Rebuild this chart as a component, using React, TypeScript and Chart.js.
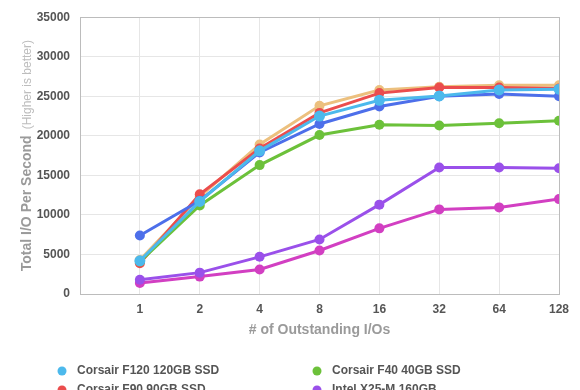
import React, { useEffect, useRef } from 'react';
import { Chart, registerables } from 'chart.js';

Chart.register(...registerables);

const FONT = "'Liberation Sans', Arial, Helvetica, sans-serif";

const categories = ['1', '2', '4', '8', '16', '32', '64', '128'];
const yTicks = [0, 5000, 10000, 15000, 20000, 25000, 30000, 35000];

const corsairF120 = [4200, 11700, 18100, 22500, 24500, 25050, 25800, 25900];
const corsairF40 = [4100, 11200, 16300, 20100, 21400, 21300, 21600, 21900];
const corsairF90 = [3900, 12600, 18400, 22900, 25400, 26100, 26100, 26000];
const intelX25M = [1800, 2700, 4700, 6900, 11300, 16000, 16000, 15900];
const ocz120 = [4300, 12300, 18900, 23800, 25800, 26200, 26400, 26400];
const ocz100 = [7400, 11800, 17900, 21500, 23700, 25000, 25300, 25000];
const intelX25V = [1400, 2200, 3100, 5500, 8300, 10700, 10950, 12000];

const seriesNames = [
  'Corsair F120 120GB SSD',
  'Corsair F40 40GB SSD',
  'Corsair F90 90GB SSD',
  'Intel X25-M 160GB',
  'OCZ Vertex 2 120GB',
  'OCZ Vertex LE 100GB',
  'Intel X25-V 40GB',
];
const seriesColors = ['#4cb9ec', '#6cc13a', '#eb4d4d', '#9a50ea', '#ecc07e', '#4d6fea', '#d23fc2'];
const seriesData = [corsairF120, corsairF40, corsairF90, intelX25M, ocz120, ocz100, intelX25V];
// drawing priority (first drawn on top)
const drawOrder = [0, 3, 6, 1, 5, 2, 4];

const xTitle = '# of Outstanding I/Os';
const yTitleMain = 'Total I/O Per Second';
const yTitleSub = '(Higher is better)';

const decor = {
  id: 'decor',
  beforeDatasetsDraw(chart: any) {
    const { ctx, chartArea: a } = chart;
    ctx.save();
    ctx.strokeStyle = '#bcbcbc';
    ctx.lineWidth = 1;
    ctx.strokeRect(Math.round(a.left) + 0.5, Math.round(a.top) + 0.5, Math.round(a.right - a.left), Math.round(a.bottom - a.top));
    ctx.restore();
  },
  afterDraw(chart: any) {
    const { ctx, chartArea: a } = chart;
    ctx.save();
    // x title
    ctx.font = `bold 14px ${FONT}`;
    ctx.fillStyle = '#9a9a9a';
    ctx.textAlign = 'center';
    ctx.textBaseline = 'middle';
    ctx.fillText(xTitle, (a.left + a.right) / 2, 330);
    // y title
    ctx.translate(31, (a.top + a.bottom) / 2);
    ctx.rotate(-Math.PI / 2);
    ctx.textBaseline = 'alphabetic';
    ctx.textAlign = 'left';
    const mainFont = `bold 14px ${FONT}`;
    const subFont = `12px ${FONT}`;
    ctx.font = mainFont;
    const w1 = ctx.measureText(yTitleMain).width;
    ctx.font = subFont;
    const w2 = ctx.measureText(yTitleSub).width;
    const gap = 6;
    const total = w1 + gap + w2;
    let x = -total / 2;
    ctx.font = mainFont;
    ctx.fillStyle = '#9a9a9a';
    ctx.fillText(yTitleMain, x, 0);
    x += w1 + gap;
    ctx.font = subFont;
    ctx.fillStyle = '#bdbdbd';
    ctx.fillText(yTitleSub, x, 0);
    ctx.restore();

    // legend (two columns)
    ctx.save();
    ctx.font = `bold 12px ${FONT}`;
    ctx.textBaseline = 'middle';
    ctx.textAlign = 'left';
    seriesNames.forEach((name, i) => {
      const col = i % 2;
      const row = Math.floor(i / 2);
      const cx = col === 0 ? 62 : 317;
      const cy = 371 + row * 19;
      ctx.beginPath();
      ctx.fillStyle = seriesColors[i];
      ctx.arc(cx, cy, 4.5, 0, Math.PI * 2);
      ctx.fill();
      ctx.fillStyle = '#555555';
      ctx.fillText(name, cx + 15, cy);
    });
    ctx.restore();
  },
};

export default function App() {
  const ref = useRef<HTMLCanvasElement | null>(null);
  useEffect(() => {
    if (!ref.current) return;
    const datasets = drawOrder.map((i) => ({
      label: seriesNames[i],
      data: seriesData[i].map((v, k) => ({ x: k + 1, y: v })),
      borderColor: seriesColors[i],
      backgroundColor: seriesColors[i],
      pointBackgroundColor: seriesColors[i],
      pointBorderWidth: 0,
      pointRadius: i === 0 ? 5.5 : 5,
      borderWidth: 3,
      tension: 0,
      fill: false,
    }));
    const chart = new Chart(ref.current, {
      type: 'line',
      data: { datasets },
      options: {
        animation: false,
        responsive: false,
        layout: { padding: { top: 15, right: 21, left: 0, bottom: 0 } },
        plugins: { legend: { display: false }, tooltip: { enabled: false }, title: { display: false } },
        scales: {
          x: {
            type: 'linear',
            min: 0,
            max: categories.length,
            afterBuildTicks: (s: any) => {
              s.ticks = [0, ...categories.map((_, k) => k + 1)].map((v) => ({ value: v }));
            },
            afterFit: (s: any) => {
              s.height = 96;
            },
            grid: { color: '#e6e6e6', drawTicks: false },
            border: { display: false },
            ticks: {
              padding: 8,
              color: '#555555',
              font: { family: FONT, size: 12, weight: 'bold' },
              callback: (v: any) => (v >= 1 ? categories[v - 1] : ''),
              maxRotation: 0,
            },
          },
          y: {
            min: 0,
            max: 35000,
            afterBuildTicks: (s: any) => {
              s.ticks = yTicks.map((v) => ({ value: v }));
            },
            afterFit: (s: any) => {
              s.width = 80;
            },
            grid: { color: '#e6e6e6', drawTicks: false },
            border: { display: false },
            ticks: {
              padding: 10,
              color: '#555555',
              font: { family: FONT, size: 12, weight: 'bold' },
              callback: (v: any) => String(v),
            },
          },
        },
      },
      plugins: [decor],
    } as any);
    return () => chart.destroy();
  }, []);
  return (
    <div style={{ position: 'fixed', left: 0, top: 0, width: 580, height: 390, background: '#fff' }}>
      <canvas ref={ref} width={580} height={390} style={{ display: 'block' }} />
    </div>
  );
}
